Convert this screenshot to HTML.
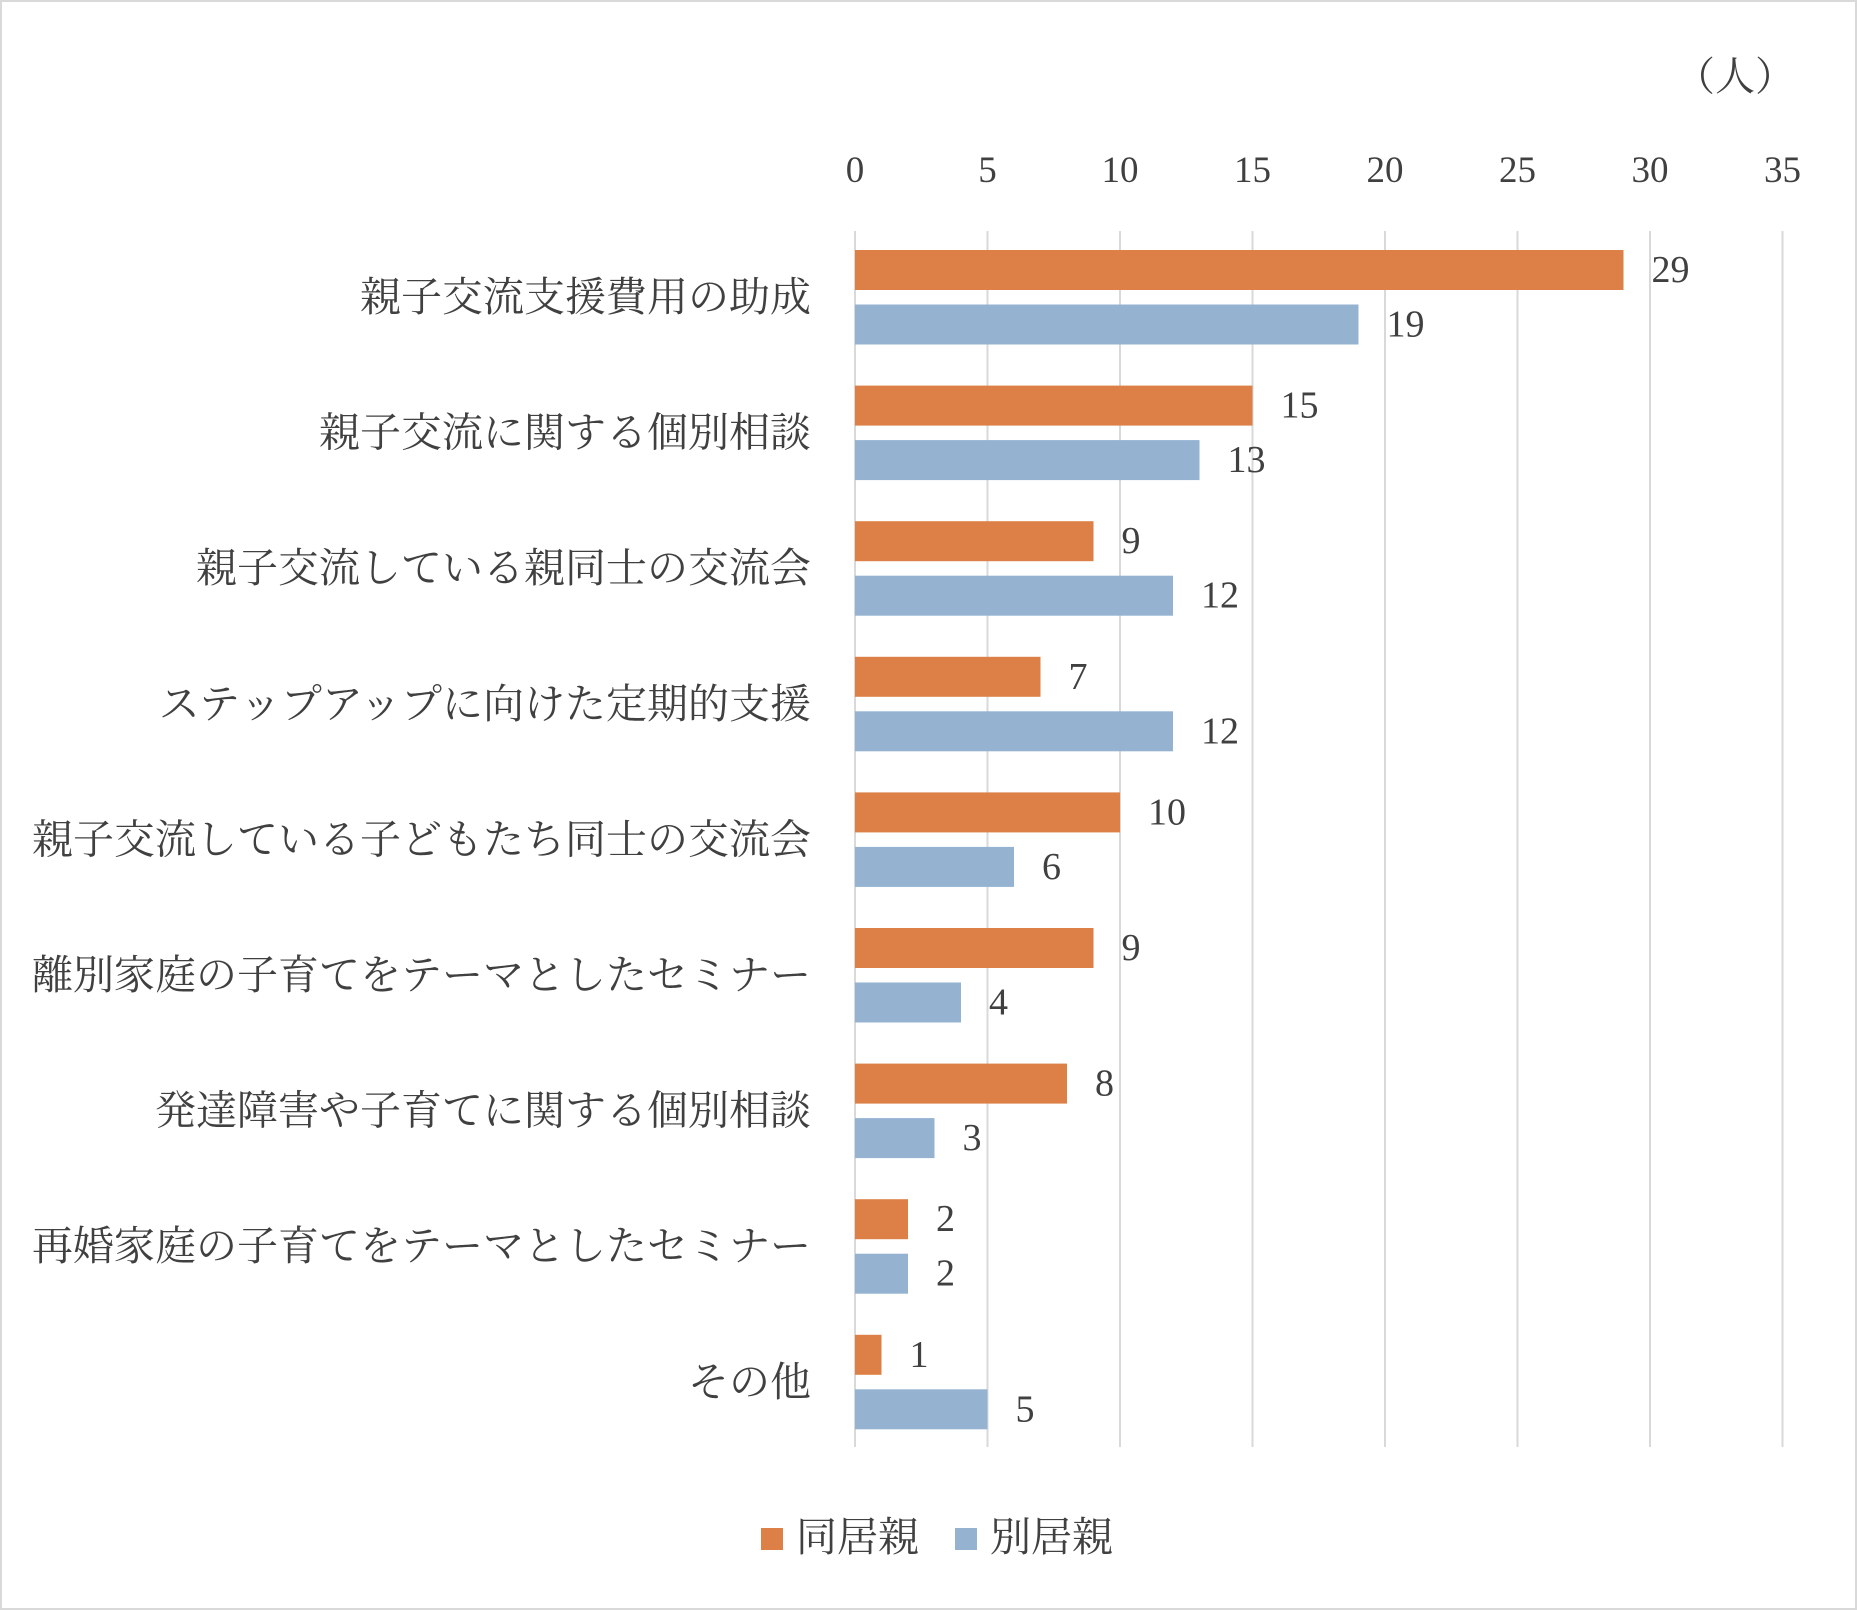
<!DOCTYPE html>
<html><head><meta charset="utf-8"><style>
html,body{margin:0;padding:0;background:#fff}
svg{display:block}
text{font-family:"Liberation Serif","Noto Serif CJK JP","Noto Serif CJK SC",serif;fill:#404040}
</style></head><body>
<svg width="1857" height="1610" viewBox="0 0 1857 1610" xmlns="http://www.w3.org/2000/svg">
<rect x="1" y="1" width="1855" height="1608" fill="#fff" stroke="#d9d9d9" stroke-width="2"/>
<g stroke="#d9d9d9" stroke-width="2">
<line x1="855" y1="231" x2="855" y2="1447"/>
<line x1="987.5" y1="231" x2="987.5" y2="1447"/>
<line x1="1120" y1="231" x2="1120" y2="1447"/>
<line x1="1252.5" y1="231" x2="1252.5" y2="1447"/>
<line x1="1385" y1="231" x2="1385" y2="1447"/>
<line x1="1517.5" y1="231" x2="1517.5" y2="1447"/>
<line x1="1650" y1="231" x2="1650" y2="1447"/>
<line x1="1782.5" y1="231" x2="1782.5" y2="1447"/>
</g>
<g font-size="37" text-anchor="middle">
<text x="855" y="182">0</text><text x="987.5" y="182">5</text><text x="1120" y="182">10</text><text x="1252.5" y="182">15</text><text x="1385" y="182">20</text><text x="1517.5" y="182">25</text><text x="1650" y="182">30</text><text x="1782.5" y="182">35</text>
</g>
<text x="1735" y="90" font-size="40" text-anchor="middle">（人）</text>
<g id="bars"></g>
<g font-size="41" text-anchor="end" id="cats"></g>
<g font-size="38" id="vals"></g>
<rect x="761" y="1528" width="22" height="22" fill="#dd8047"/>
<text x="796" y="1551" font-size="41">同居親</text>
<rect x="955" y="1528" width="22" height="22" fill="#95b3d1"/>
<text x="990" y="1551" font-size="41">別居親</text>
<script>
var cats=["親子交流支援費用の助成","親子交流に関する個別相談","親子交流している親同士の交流会","ステップアップに向けた定期的支援","親子交流している子どもたち同士の交流会","離別家庭の子育てをテーマとしたセミナー","発達障害や子育てに関する個別相談","再婚家庭の子育てをテーマとしたセミナー","その他"];
var a=[29,15,9,7,10,9,8,2,1],b=[19,13,12,12,6,4,3,2,5];
var ns="http://www.w3.org/2000/svg",u=26.5,x0=855;
function el(p,t,at,tx){var e=document.createElementNS(ns,t);for(var k in at)e.setAttribute(k,at[k]);if(tx!=null)e.textContent=tx;document.getElementById(p).appendChild(e);}
for(var i=0;i<9;i++){var y=250+i*135.6;
el("bars","rect",{x:x0,y:y,width:a[i]*u,height:40,fill:"#dd8047"});
el("bars","rect",{x:x0,y:y+54.5,width:b[i]*u,height:40,fill:"#95b3d1"});
el("vals","text",{x:x0+a[i]*u+28,y:y+32},a[i]);
el("vals","text",{x:x0+b[i]*u+28,y:y+54.5+32},b[i]);
el("cats","text",{x:811,y:y+61},cats[i]);}
</script>
</svg>
</body></html>
